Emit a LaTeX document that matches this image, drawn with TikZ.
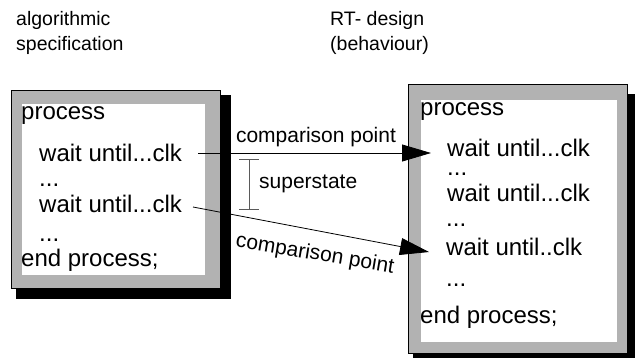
\documentclass[tikz,border=0pt]{standalone}
\usepackage{fontspec}
\setmainfont{Liberation Sans}
\usetikzlibrary{arrows.meta,calc}
\definecolor{framegray}{RGB}{178,178,178}
\definecolor{bargray}{RGB}{90,90,90}
\tikzset{
  code/.style={anchor=base west,inner sep=0pt,font=\fontsize{24}{26}\selectfont},
  label/.style={inner sep=0pt,font=\fontsize{21}{24}\selectfont},
  heading/.style={anchor=base west,inner sep=0pt,font=\fontsize{19.5}{22}\selectfont},
  frame/.style={draw=black,line width=0.8pt,fill=framegray},
  shadow/.style={fill=black,draw=none},
  link/.style={line width=0.8pt,-{Triangle[length=29pt,width=17pt]}},
  bar/.style={draw=bargray,line width=0.9pt}
}
\begin{document}
\begin{tikzpicture}[x=1pt,y=-1pt]
\useasboundingbox (0,0) rectangle (635,357);
\clip (0,0) rectangle (635,357);

% headings
\node[heading] (h1) at (16,25) {algorithmic};
\node[heading] (h2) at (16,50) {specification};
\node[heading] (h3) at (330,25) {RT- design};
\node[heading] (h4) at (330,50) {(behaviour)};

% left box: shadow, gray frame, white page
\fill[shadow] (16,95) rectangle (231,299);
\draw[frame] (11,90) rectangle (220,288);
\fill[white] (22,104) rectangle (205,275);

% right box
\fill[shadow] (413,94) rectangle (640,364);
\draw[frame] (408,84) rectangle (627,353);
\fill[white] (421,100) rectangle (617,342);

% left listing
\node[code] (lp)  at (21,119.5) {process};
\node[code] (lw1) at (39,161.5) {wait until...clk};
\node[code] (ld1) at (39,186) {...};
\node[code] (lw2) at (39,212.5) {wait until...clk};
\node[code] (ld2) at (39,241.5) {...};
\node[code] (le)  at (21,266.5) {end process;};

% right listing
\node[code] (rp)  at (420,115) {process};
\node[code] (rw1) at (447,156) {wait until...clk};
\node[code] (rd1) at (447,175) {...};
\node[code] (rw2) at (447,201.5) {wait until...clk};
\node[code] (rd2) at (446,226.5) {...};
\node[code] (rw3) at (446,255) {wait until..clk};
\node[code] (rd3) at (446,286.5) {...};
\node[code] (re)  at (420,323) {end process;};

% connector end points, next to the listed wait statements
\coordinate (s1) at (198,153);
\coordinate (t1) at (431,153);
\coordinate (s2) at (193,207);
\coordinate (t2) at (429,252);

\draw[link] (s1) -- (t1);
\draw[link] (s2) -- (t2);
\node[label] (c1) at (316,137) {comparison point};
\node[label,rotate=-9.5] (c2) at (315,254.5) {comparison point};

% superstate bracket
\coordinate (bt) at (249,159);
\coordinate (bb) at (249,209);
\draw[bar] (bt) -- (bb);
\draw[bar] ($(bt)+(-10,0)$) -- ($(bt)+(10,0)$);
\draw[bar] ($(bb)+(-10,0)$) -- ($(bb)+(10,0)$);
\node[label,anchor=west] (ss) at (259,184) {superstate};
\end{tikzpicture}
\end{document}
